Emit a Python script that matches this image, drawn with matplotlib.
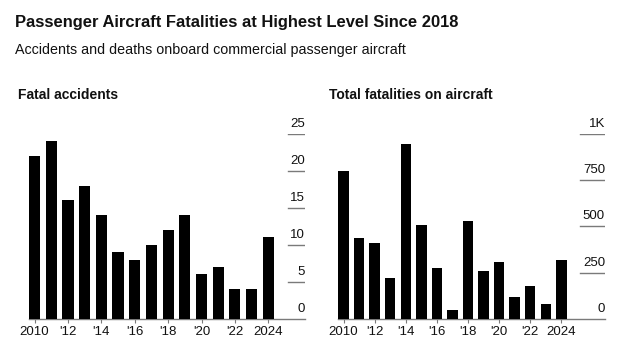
import matplotlib
matplotlib.use("Agg")
import matplotlib.pyplot as plt
import matplotlib.transforms as mtransforms

plt.rcParams['font.family'] = ['Liberation Sans', 'DejaVu Sans']

years = list(range(2010, 2025))
accidents = [22, 24, 16, 18, 14, 9, 8, 10, 12, 14, 6, 7, 4, 4, 11]
fatalities = [800, 439, 412, 218, 944, 507, 276, 49, 527, 258, 307, 116, 175, 81, 318]

tick_years = [2010, 2012, 2014, 2016, 2018, 2020, 2022, 2024]
tick_labels = ['2010', "'12", "'14", "'16", "'18", "'20", "'22", '2024']

acc_ticks = [0, 5, 10, 15, 20, 25]
acc_tick_labels = ['0', '5', '10', '15', '20', '25']
fat_ticks = [0, 250, 500, 750, 1000]
fat_tick_labels = ['0', '250', '500', '750', '1K']

W, H = 640, 362
fig = plt.figure(figsize=(W / 100, H / 100), dpi=100)
fig.patch.set_facecolor('white')

GRAY = '#7a7a7a'


def px_axes(left, right, top, bottom):
    return fig.add_axes([left / W, 1 - bottom / H, (right - left) / W, (bottom - top) / H])


def draw_panel(ax, values, yticks, ylabels, ymax, xmax, grid_frac):
    ax.bar(years, values, width=0.67, color='black', zorder=3)
    ax.set_xlim(2010 - 0.335, xmax)
    ax.set_ylim(0, ymax)
    for s in ['top', 'right', 'left']:
        ax.spines[s].set_visible(False)
    ax.spines['bottom'].set_color(GRAY)
    ax.spines['bottom'].set_linewidth(1.0)
    ax.set_yticks([])
    ax.set_xticks(tick_years)
    ax.set_xticklabels(tick_labels, fontsize=9.5, color='#111111')
    ax.tick_params(axis='x', length=3, color=GRAY, pad=2)
    # labels sit just above short gridlines on the right
    trans = mtransforms.blended_transform_factory(ax.transAxes, ax.transData)
    trans = trans + mtransforms.ScaledTranslation(0, 4 / 100, fig.dpi_scale_trans)
    for t, lab in zip(yticks, ylabels):
        if t > 0:
            ax.axhline(t, xmin=1 - grid_frac, xmax=1, color=GRAY, lw=1.0)
        ax.text(1.0, t, lab, transform=trans, ha='right', va='bottom',
                fontsize=9.5, color='#111111', clip_on=False)


ax1 = px_axes(29, 305, 134, 318.7)
draw_panel(ax1, accidents, acc_ticks, acc_tick_labels, 25, 2026.2, 0.062)

ax2 = px_axes(338.3, 605, 134, 318.7)
draw_panel(ax2, fatalities, fat_ticks, fat_tick_labels, 1000, 2026.81, 0.094)

fig.text(15 / W, 1 - 23 / H, 'Passenger Aircraft Fatalities at Highest Level Since 2018',
         fontsize=11.9, fontweight='bold', va='center', ha='left', color='#111111')
fig.text(15 / W, 1 - 50 / H, 'Accidents and deaths onboard commercial passenger aircraft',
         fontsize=10.3, va='center', ha='left', color='#111111')
fig.text(18 / W, 1 - 95 / H, 'Fatal accidents', fontsize=10, fontweight='bold',
         va='center', ha='left', color='#111111')
fig.text(329 / W, 1 - 95 / H, 'Total fatalities on aircraft', fontsize=10, fontweight='bold',
         va='center', ha='left', color='#111111')

fig.savefig('out.png', dpi=100, facecolor='white')
